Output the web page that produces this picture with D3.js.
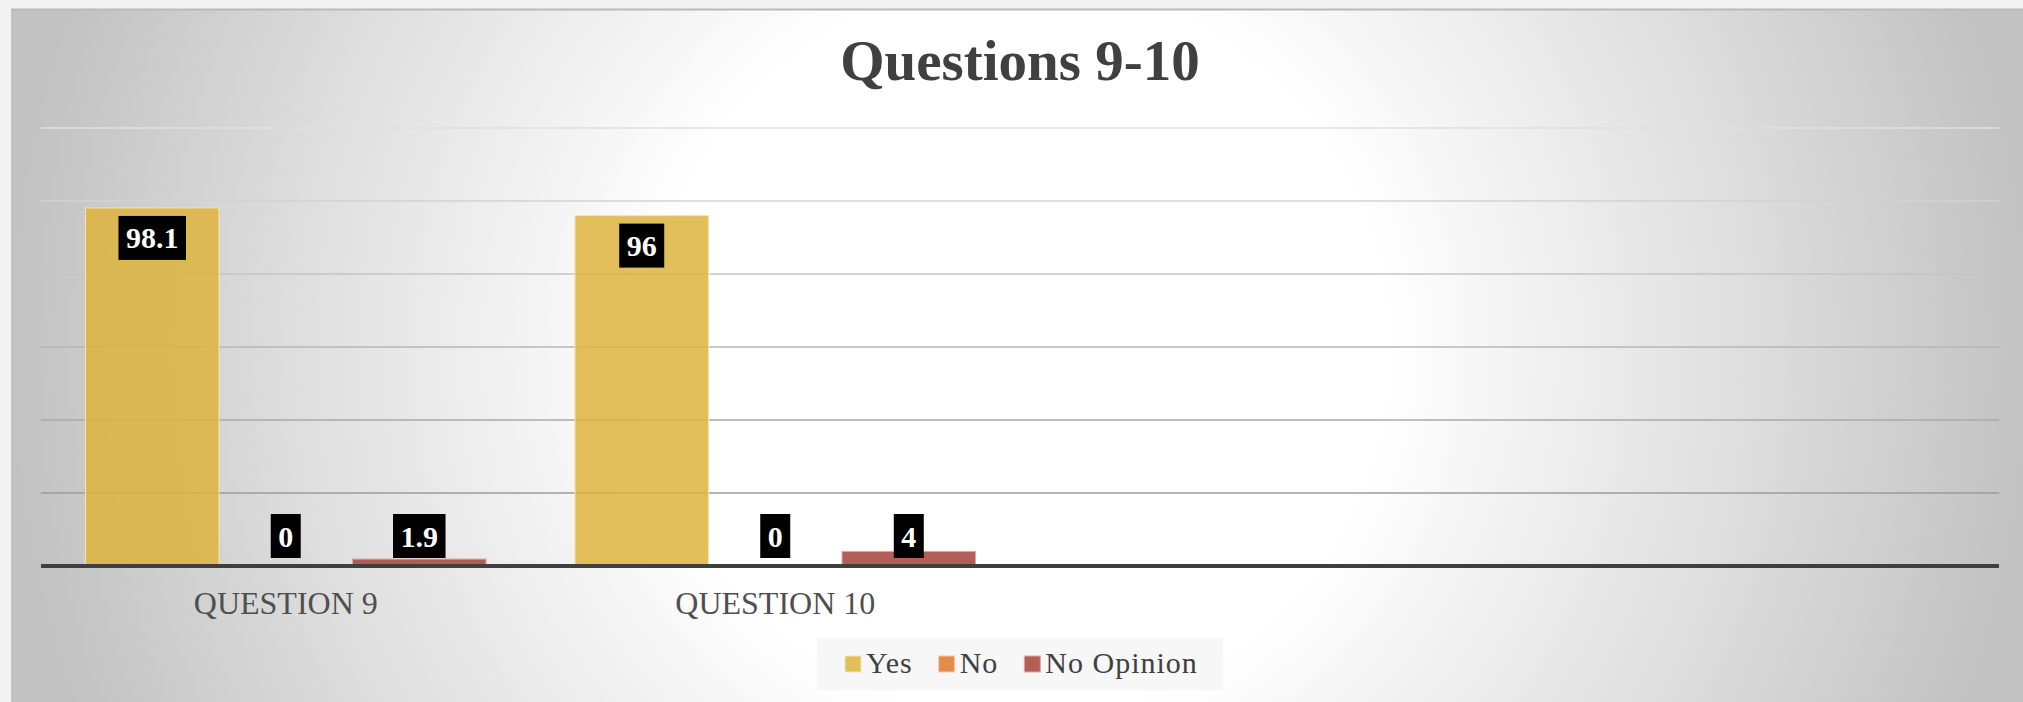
<!DOCTYPE html>
<html>
<head>
<meta charset="utf-8">
<script src="https://cdn.jsdelivr.net/npm/d3@7"></script>
<style>
  html, body { margin: 0; padding: 0; background: #f3f3f3; overflow: hidden; }
  svg { display: block; }
</style>
</head>
<body>
<svg id="chart" width="2023" height="702"></svg>
<script>
// ---- data ----
const categories = ["QUESTION 9", "QUESTION 10", "", ""];
const seriesNames = ["Yes", "No", "No Opinion"];
const yesValues = [98.1, 96, null, null];
const noValues = [0, 0, null, null];
const noOpinionValues = [1.9, 4, null, null];
const yTicks = [0, 20, 40, 60, 80, 100, 120];
const titleText = "Questions 9-10";

// ---- look ----
const W = 2023, H = 702;
const plot = { left: 41, right: 1999, top: 128, bottom: 566 };
const serif = "'Liberation Serif', 'Times New Roman', serif";
const seriesColors = ["rgb(222,180,64)", "rgb(224,122,44)", "rgb(166,66,57)"];
const seriesStroke = ["#f4e4b4", "#f3c9a4", "#dcaaa4"];
const barOpacity = 0.85;

const series = [yesValues, noValues, noOpinionValues].map((vals, s) => ({
  name: seriesNames[s], color: seriesColors[s], stroke: seriesStroke[s], values: vals
}));

const svg = d3.select("#chart");
const defs = svg.append("defs");

// soft radial backdrop
const bg = defs.append("radialGradient")
  .attr("id", "bgGrad").attr("gradientUnits", "userSpaceOnUse")
  .attr("cx", 1020).attr("cy", 350).attr("r", 1010);
bg.append("stop").attr("offset", 0).attr("stop-color", "#ffffff");
bg.append("stop").attr("offset", 0.36).attr("stop-color", "#ffffff");
bg.append("stop").attr("offset", 0.7).attr("stop-color", "#e0e0e0");
bg.append("stop").attr("offset", 1).attr("stop-color", "#c2c2c2");

// gridlines fade from light (top) to darker (bottom)
const gl = defs.append("linearGradient")
  .attr("id", "gridGrad").attr("gradientUnits", "userSpaceOnUse")
  .attr("x1", 0).attr("x2", 0).attr("y1", plot.top).attr("y2", plot.bottom);
gl.append("stop").attr("offset", 0).attr("stop-color", "#e0e0e0");
gl.append("stop").attr("offset", 1).attr("stop-color", "#8e8e8e");

svg.append("rect").attr("x", 11).attr("y", 9).attr("width", W - 11).attr("height", H - 9)
  .attr("fill", "url(#bgGrad)");
svg.append("line").attr("x1", 11).attr("x2", W).attr("y1", 9.5).attr("y2", 9.5)
  .attr("stroke", "#b9b9b9").attr("stroke-width", 2);

// ---- scales ----
const x0 = d3.scaleBand().domain(d3.range(categories.length))
  .range([plot.left, plot.right]).paddingInner(0).paddingOuter(0);
const x1 = d3.scaleBand().domain(d3.range(series.length))
  .range([0, x0.bandwidth()]).paddingInner(0).paddingOuter(0.333);
const y = d3.scaleLinear().domain([0, 120]).range([plot.bottom, plot.top]);

// ---- gridlines ----
svg.append("g").selectAll("line")
  .data(yTicks.filter(t => t > 0))
  .join("line")
  .attr("x1", plot.left).attr("x2", plot.right)
  .attr("y1", d => y(d)).attr("y2", d => y(d))
  .attr("stroke", "url(#gridGrad)").attr("stroke-width", 1.6);

// ---- title ----
svg.append("text")
  .attr("x", (plot.left + plot.right) / 2).attr("y", 80)
  .attr("text-anchor", "middle")
  .attr("font-family", serif).attr("font-weight", "bold").attr("font-size", 57)
  .attr("fill", "#404040")
  .text(titleText);

// ---- bars ----
const groups = svg.append("g").selectAll("g")
  .data(categories.map((c, i) => i))
  .join("g")
  .attr("transform", i => `translate(${x0(i)},0)`);

groups.selectAll("rect")
  .data(i => series.map((s, k) => ({ k, v: s.values[i], s })).filter(d => d.v !== null))
  .join("rect")
  .attr("x", d => x1(d.k)).attr("width", x1.bandwidth())
  .attr("y", d => y(d.v)).attr("height", d => y(0) - y(d.v))
  .attr("fill", d => d.s.color).attr("fill-opacity", barOpacity)
  .attr("stroke", d => d.v > 0 ? d.s.stroke : "none").attr("stroke-width", 1);

// ---- baseline ----
svg.append("line")
  .attr("x1", plot.left).attr("x2", plot.right)
  .attr("y1", y(0)).attr("y2", y(0))
  .attr("stroke", "#3f3f3f").attr("stroke-width", 4);

// ---- data labels: black boxes, inside end, kept above the base ----
const boxH = 44, boxPad = 7.5, labelGap = 8;
groups.each(function (i) {
  const g = d3.select(this);
  series.forEach((s, k) => {
    const v = s.values[i];
    if (v === null) return;
    const cx = x1(k) + x1.bandwidth() / 2;
    const top = Math.min(y(v) + labelGap, y(0) - labelGap - boxH);
    const lg = g.append("g");
    const rect = lg.append("rect").attr("fill", "#000");
    const t = lg.append("text")
      .attr("x", cx).attr("y", top + boxH / 2)
      .attr("dy", "0.35em")
      .attr("text-anchor", "middle")
      .attr("font-family", serif).attr("font-weight", "bold").attr("font-size", 30)
      .attr("fill", "#ffffff")
      .text(d3.format("")(v));
    const tw = t.node().getComputedTextLength();
    rect.attr("x", cx - tw / 2 - boxPad).attr("y", top)
      .attr("width", tw + 2 * boxPad).attr("height", boxH);
  });
});

// ---- category axis ----
const xAxis = d3.axisBottom(x0).tickSize(0).tickPadding(25).tickFormat(i => categories[i]);
const axisG = svg.append("g").attr("transform", `translate(0,${y(0)})`).call(xAxis);
axisG.select(".domain").remove();
axisG.attr("font-family", serif).attr("font-size", 32);
axisG.selectAll("text").attr("fill", "#4f4f4f");

// ---- legend ----
const legend = svg.append("g");
legend.append("rect").attr("x", 817).attr("y", 638).attr("width", 406).attr("height", 52)
  .attr("fill", "#f7f7f7");
let cursor = 845;
const sw = 16, swGap = 5, itemGap = 26;
series.forEach(s => {
  const it = legend.append("g").attr("transform", `translate(${cursor},0)`);
  it.append("rect").attr("x", 0).attr("y", 656).attr("width", sw).attr("height", sw)
    .attr("fill", s.color).attr("fill-opacity", barOpacity)
    .attr("stroke", s.stroke).attr("stroke-width", 1);
  const t = it.append("text").attr("x", sw + swGap).attr("y", 673)
    .attr("font-family", serif).attr("font-size", 30).attr("letter-spacing", 1)
    .attr("fill", "#404040").text(s.name);
  cursor += sw + swGap + t.node().getComputedTextLength() + itemGap;
});
</script>
</body>
</html>
